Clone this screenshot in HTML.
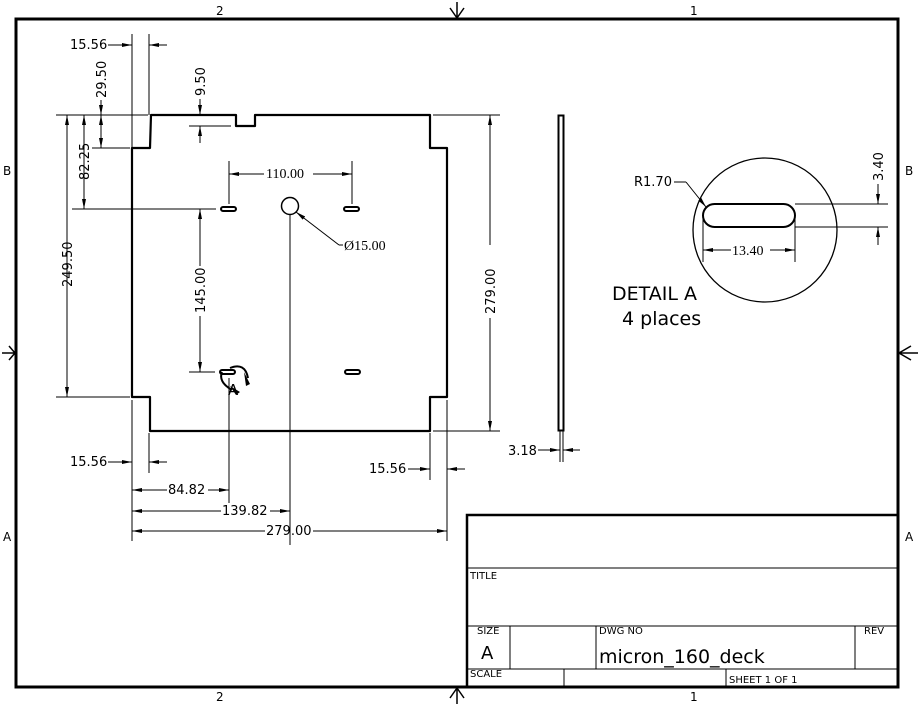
<!DOCTYPE html>
<html><head><meta charset="utf-8"><style>
html,body{margin:0;padding:0;background:#fff;}
svg{display:block;}
text{font-family:"DejaVu Sans","Liberation Sans",sans-serif;fill:#000;}
.s{font-family:"Liberation Serif",serif;}
</style></head><body>
<svg width="920" height="706" viewBox="0 0 920 706" xmlns="http://www.w3.org/2000/svg">
<defs>
<marker id="a" viewBox="0 0 10 4" refX="10" refY="2" markerWidth="10" markerHeight="4" orient="auto-start-reverse" markerUnits="userSpaceOnUse"><path d="M0,0 L10,2 L0,4z" fill="#000"/></marker>
</defs>
<rect x="0" y="0" width="920" height="706" fill="#fff"/>
<rect x="16" y="19" width="882" height="668" fill="none" stroke="#000" stroke-width="3"/>
<g font-size="12">
<text x="216" y="15">2</text><text x="690" y="15">1</text>
<text x="216" y="701">2</text><text x="690" y="701">1</text>
<text x="3" y="175">B</text><text x="3" y="541">A</text>
<text x="905" y="175">B</text><text x="905" y="541">A</text>
</g>
<g fill="none" stroke="#000" stroke-width="1.5">
<path d="M457,2 V18 M450,8 L457,18 L464,8"/>
<path d="M457,704 V688 M450,698 L457,688 L464,698"/>
<path d="M2,353 H15 M9,346 L15,353 L9,360"/>
<path d="M918,353 H899 M911,346 L899,353 L911,360"/>
</g>
<path d="M151,115 H236 V126 H255 V115 H430 V148 H447 V397 H430 V431 H150 V397 H132 V148 H150 Z" fill="none" stroke="#000" stroke-width="2.2" stroke-linejoin="round"/>
<g fill="none" stroke="#000" stroke-width="2">
<rect x="221" y="207" width="15" height="4" rx="2"/>
<rect x="344" y="207" width="15" height="4" rx="2"/>
<rect x="220" y="370" width="15" height="4" rx="2"/>
<rect x="345" y="370" width="15" height="4" rx="2"/>
</g>
<circle cx="290" cy="206" r="8.5" fill="none" stroke="#000" stroke-width="1.5"/>
<g stroke="#000" stroke-width="1" fill="none">
<line x1="132" y1="34" x2="132" y2="148"/><line x1="149" y1="34" x2="149" y2="115"/>
<line x1="108" y1="45" x2="132" y2="45" marker-end="url(#a)"/><line x1="167" y1="45" x2="149" y2="45" marker-end="url(#a)"/>
<line x1="56" y1="115" x2="148" y2="115"/><line x1="433" y1="115" x2="500" y2="115"/>
<line x1="92" y1="148" x2="130" y2="148"/>
<line x1="101" y1="100" x2="101" y2="115" marker-end="url(#a)"/>
<line x1="101" y1="115" x2="101" y2="148" marker-start="url(#a)" marker-end="url(#a)"/>
<line x1="84" y1="115" x2="84" y2="209" marker-start="url(#a)" marker-end="url(#a)"/>
<line x1="67" y1="115" x2="67" y2="397" marker-start="url(#a)" marker-end="url(#a)"/>
<line x1="72" y1="209" x2="216" y2="209"/>
<line x1="56" y1="397" x2="130" y2="397"/>
<line x1="200" y1="99" x2="200" y2="115" marker-end="url(#a)"/>
<line x1="189" y1="126" x2="231" y2="126"/>
<line x1="200" y1="143" x2="200" y2="126" marker-end="url(#a)"/>
<line x1="229" y1="161" x2="229" y2="204"/><line x1="352" y1="161" x2="352" y2="204"/>
<line x1="264" y1="174" x2="229" y2="174" marker-end="url(#a)"/><line x1="313" y1="174" x2="352" y2="174" marker-end="url(#a)"/>
<line x1="200" y1="209" x2="200" y2="266" marker-start="url(#a)"/>
<line x1="200" y1="316" x2="200" y2="372" marker-end="url(#a)"/>
<line x1="189" y1="372" x2="215" y2="372"/>
<line x1="290" y1="215" x2="290" y2="545"/>
<line x1="339" y1="245" x2="296" y2="212" marker-end="url(#a)"/><line x1="339" y1="245" x2="343" y2="245"/>
<line x1="229" y1="378" x2="229" y2="503"/>
<line x1="433" y1="431" x2="500" y2="431"/>
<line x1="490" y1="115" x2="490" y2="245" marker-start="url(#a)"/>
<line x1="490" y1="318" x2="490" y2="431" marker-end="url(#a)"/>
<line x1="132" y1="400" x2="132" y2="541"/><line x1="149" y1="433" x2="149" y2="473"/>
<line x1="108" y1="462" x2="132" y2="462" marker-end="url(#a)"/><line x1="167" y1="462" x2="149" y2="462" marker-end="url(#a)"/>
<line x1="430" y1="433" x2="430" y2="480"/><line x1="447" y1="400" x2="447" y2="541"/>
<line x1="408" y1="469" x2="430" y2="469" marker-end="url(#a)"/><line x1="465" y1="469" x2="447" y2="469" marker-end="url(#a)"/>
<line x1="167" y1="490" x2="132" y2="490" marker-end="url(#a)"/><line x1="208" y1="490" x2="229" y2="490" marker-end="url(#a)"/>
<line x1="221" y1="511" x2="132" y2="511" marker-end="url(#a)"/><line x1="270" y1="511" x2="290" y2="511" marker-end="url(#a)"/>
<line x1="265" y1="531" x2="132" y2="531" marker-end="url(#a)"/><line x1="313" y1="531" x2="447" y2="531" marker-end="url(#a)"/>
</g>
<g stroke="#000" fill="none" stroke-width="2">
<path d="M230,368 Q245,362 248,378"/><path d="M222,372 Q218,382 232,390"/>
</g>
<path d="M244,372 L250,384 L246,386Z M230,386 L240,392 L236,395Z" fill="#000"/>
<text x="228" y="395" font-size="15">A</text>
<g font-size="13">
<text x="70" y="49">15.56</text>
<text x="70" y="466">15.56</text>
<text x="369" y="473">15.56</text>
<text x="168" y="494">84.82</text>
<text x="222" y="515">139.82</text>
<text x="266" y="535">279.00</text>
<text x="508" y="455">3.18</text>
<text transform="translate(106,98) rotate(-90)">29.50</text>
<text transform="translate(205,96) rotate(-90)">9.50</text>
<text transform="translate(89,180) rotate(-90)">82.25</text>
<text transform="translate(72,287) rotate(-90)">249.50</text>
<text transform="translate(205,313) rotate(-90)">145.00</text>
<text transform="translate(495,314) rotate(-90)">279.00</text>
<text transform="translate(883,181) rotate(-90)">3.40</text>
<text x="634" y="186">R1.70</text>
</g>
<g font-size="14">
<text x="266" y="178" class="s">110.00</text>
<text x="344" y="250" class="s">Ø15.00</text>
<text x="732" y="255" class="s">13.40</text>
</g>
<g stroke="#000" fill="none">
<rect x="558.5" y="115.5" width="5" height="315" stroke-width="2"/>
<line x1="560" y1="431" x2="560" y2="462"/><line x1="563" y1="431" x2="563" y2="462"/>
<line x1="538" y1="450" x2="560" y2="450" marker-end="url(#a)"/><line x1="580" y1="450" x2="563" y2="450" marker-end="url(#a)"/>
</g>
<circle cx="765" cy="230" r="72" fill="none" stroke="#000" stroke-width="1.3"/>
<rect x="703" y="204" width="92" height="23" rx="11.5" fill="none" stroke="#000" stroke-width="2"/>
<g stroke="#000" fill="none" stroke-width="1">
<line x1="674" y1="182" x2="686" y2="182"/><line x1="686" y1="182" x2="706" y2="207" marker-end="url(#a)"/>
<line x1="703" y1="218" x2="703" y2="262"/><line x1="795" y1="218" x2="795" y2="262"/>
<line x1="731" y1="250" x2="703" y2="250" marker-end="url(#a)"/><line x1="770" y1="250" x2="795" y2="250" marker-end="url(#a)"/>
<line x1="795" y1="204" x2="888" y2="204"/><line x1="795" y1="227" x2="888" y2="227"/>
<line x1="878" y1="184" x2="878" y2="204" marker-end="url(#a)"/>
<line x1="878" y1="245" x2="878" y2="227" marker-end="url(#a)"/>
</g>
<text x="612" y="300" font-size="19">DETAIL  A</text>
<text x="622" y="325" font-size="19">4 places</text>
<g stroke="#000" fill="none">
<rect x="467" y="515" width="431" height="172" stroke-width="2.5"/>
<line x1="467" y1="568" x2="898" y2="568"/>
<line x1="467" y1="626" x2="898" y2="626"/>
<line x1="467" y1="669" x2="898" y2="669"/>
<line x1="510" y1="626" x2="510" y2="669"/>
<line x1="596" y1="626" x2="596" y2="669"/>
<line x1="855" y1="626" x2="855" y2="669"/>
<line x1="564" y1="669" x2="564" y2="687"/>
<line x1="726" y1="669" x2="726" y2="687"/>
</g>
<g font-size="10">
<text x="470" y="579">TITLE</text>
<text x="477" y="634">SIZE</text>
<text x="599" y="634">DWG NO</text>
<text x="864" y="634">REV</text>
<text x="470" y="677">SCALE</text>
<text x="729" y="683">SHEET 1  OF 1</text>
</g>
<text x="481" y="659" font-size="18">A</text>
<text x="599" y="663" font-size="19">micron_160_deck</text>
</svg>
</body></html>
